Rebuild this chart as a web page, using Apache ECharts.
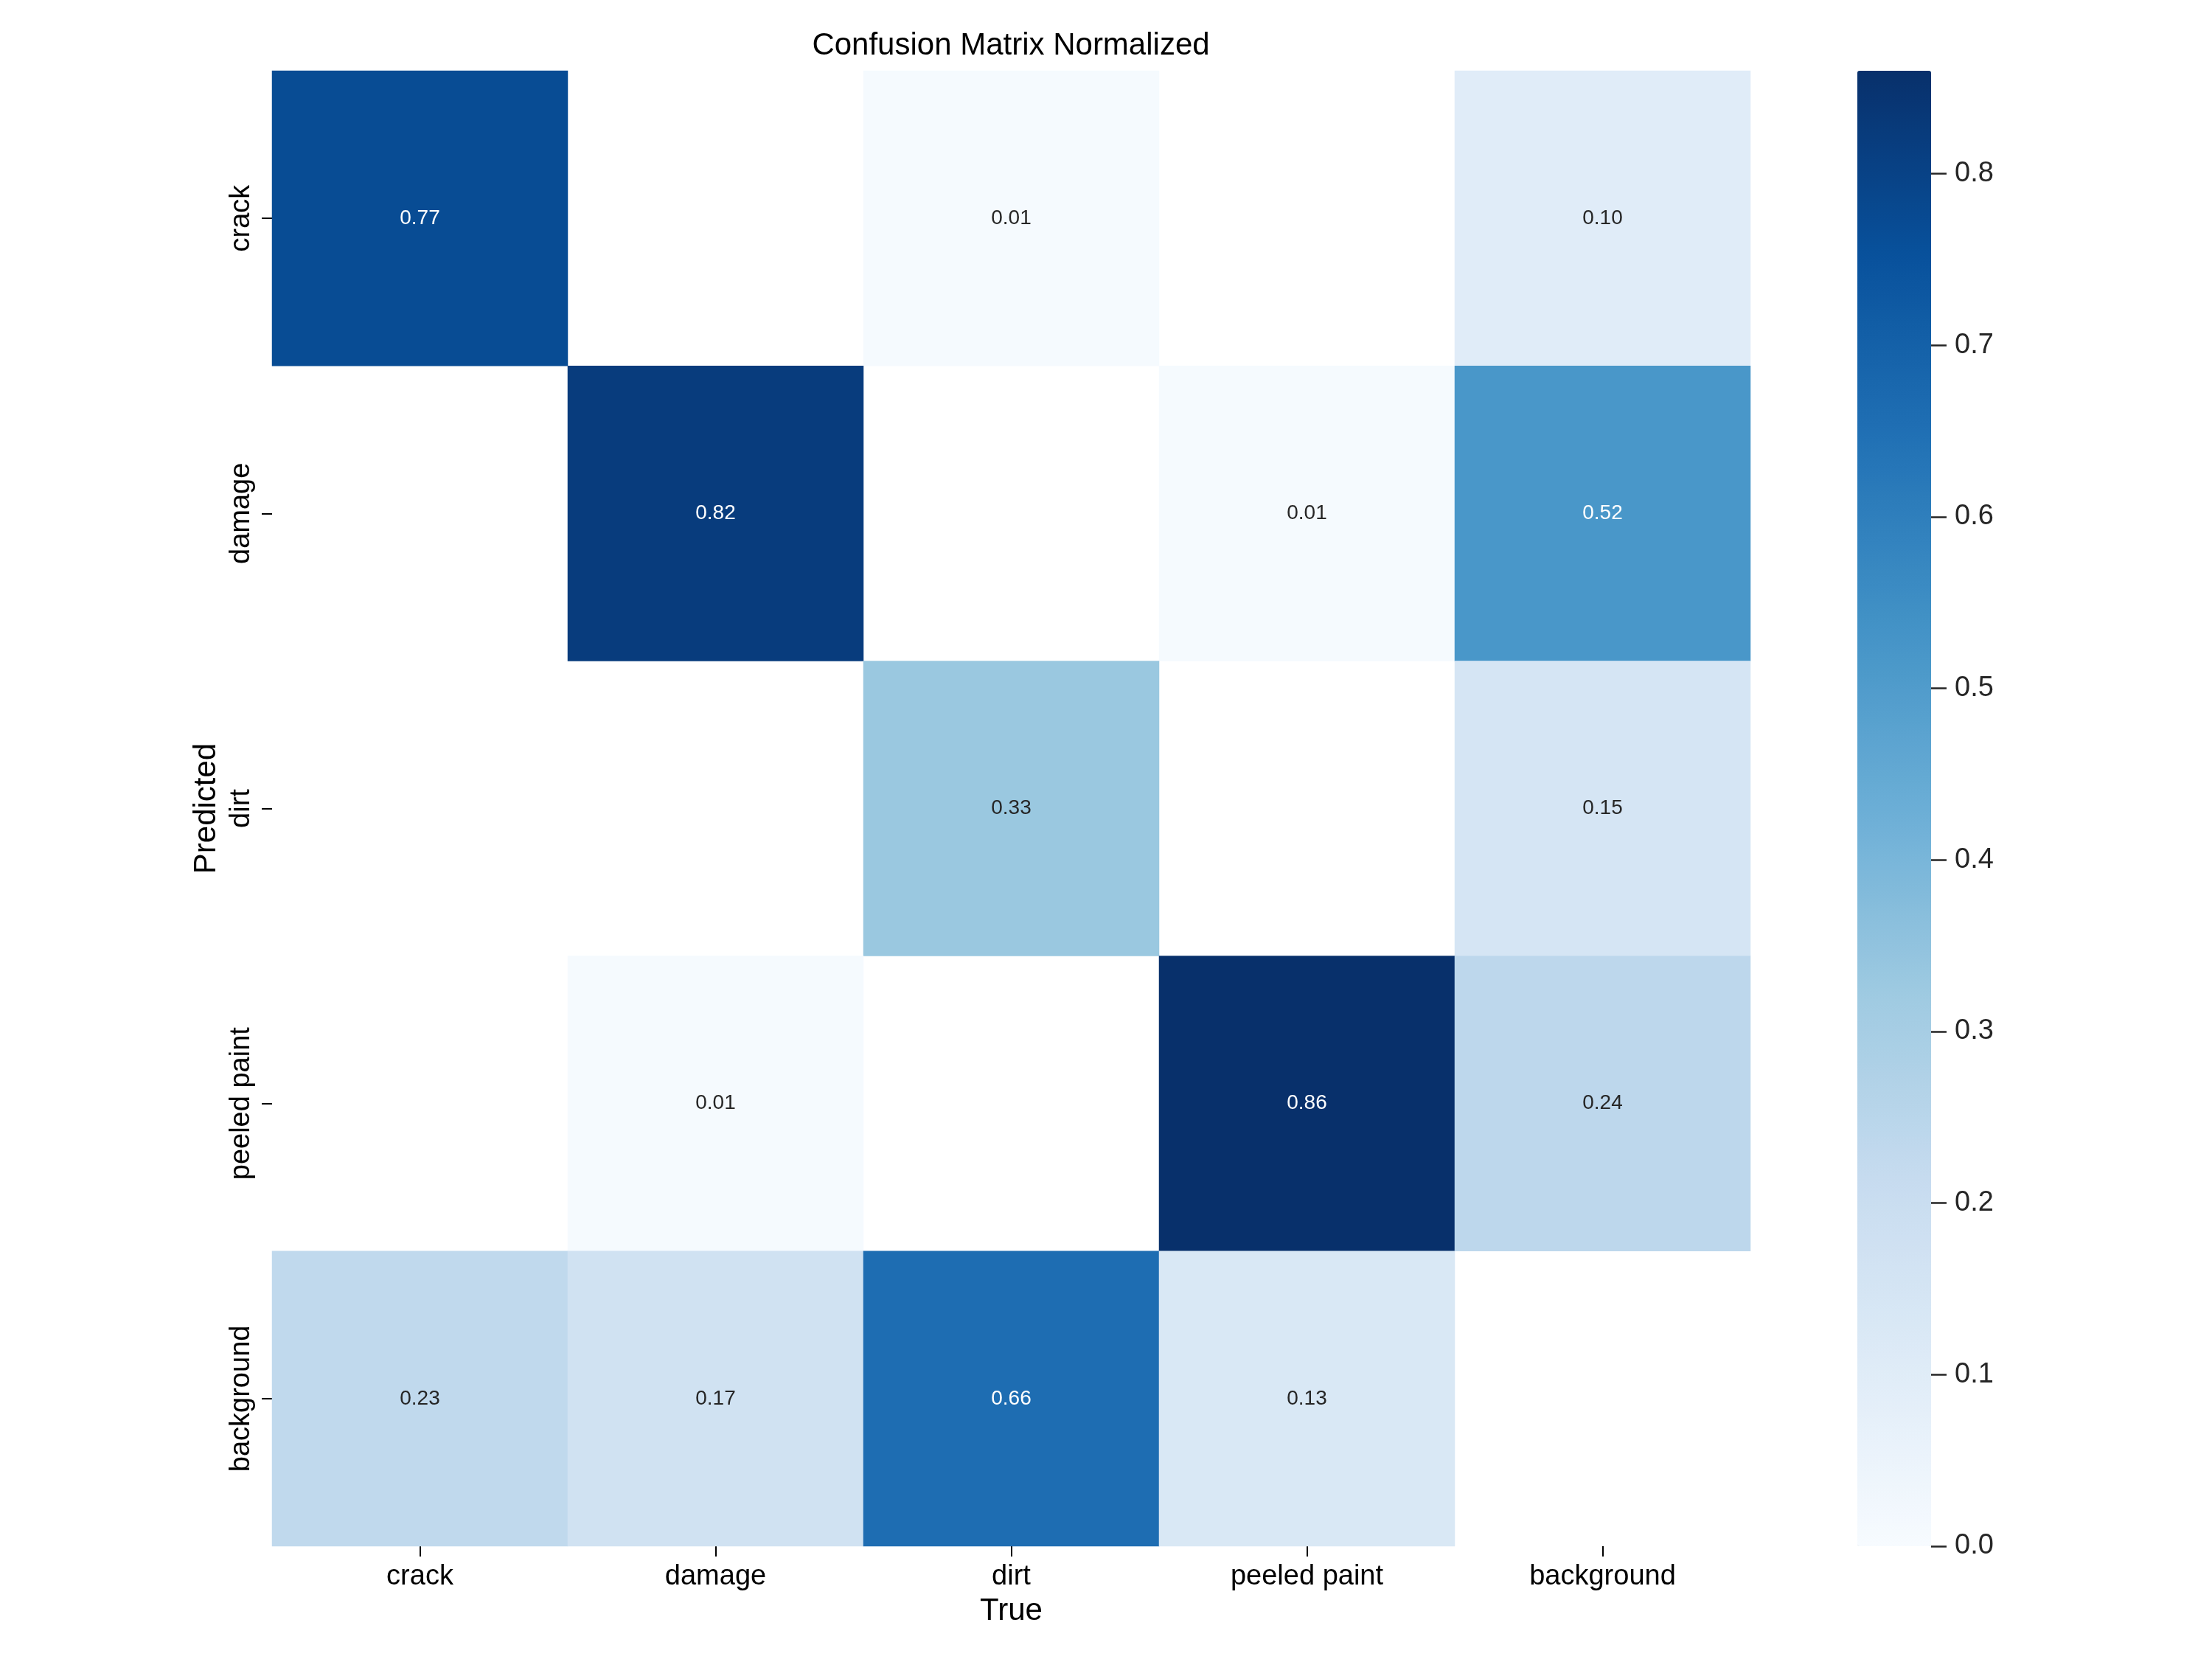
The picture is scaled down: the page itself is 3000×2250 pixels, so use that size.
<!DOCTYPE html>
<html>
<head>
<meta charset="utf-8">
<script src="https://cdn.jsdelivr.net/npm/echarts@6/dist/echarts.min.js"></script>
<style>
html, body { margin: 0; padding: 0; background: #ffffff; }
#chart { width: 3000px; height: 2250px; }
</style>
</head>
<body>
<div id="chart"></div>
<script>
// ---- data ----
const trueCategories = ['crack', 'damage', 'dirt', 'peeled paint', 'background'];
const predictedCategories = ['crack', 'damage', 'dirt', 'peeled paint', 'background'];
// rows = Predicted, columns = True (0 means empty / not drawn)
const rowCrack = [0.77, 0, 0.01, 0, 0.10];
const rowDamage = [0, 0.82, 0, 0.01, 0.52];
const rowDirt = [0, 0, 0.33, 0, 0.15];
const rowPeeledPaint = [0, 0.01, 0, 0.86, 0.24];
const rowBackground = [0.23, 0.17, 0.66, 0.13, 0];
const colorbarTicks = [0, 0.1, 0.2, 0.3, 0.4, 0.5, 0.6, 0.7, 0.8];
const colorMin = 0;
const colorMax = 0.86;

// ---- build ----
const rows = [rowCrack, rowDamage, rowDirt, rowPeeledPaint, rowBackground];
const cells = [];
rows.forEach(function (row, i) {
  row.forEach(function (v, j) {
    if (v > 0) cells.push([j, i, v]);
  });
});

const FONT = '"Liberation Sans", Arial, Helvetica, sans-serif';
const BLUES = ['#f7fbff', '#deebf7', '#c6dbef', '#9ecae1', '#6baed6', '#4292c6', '#2171b5', '#08519c', '#08306b'];

// colorbar geometry
const CB_LEFT = 2519, CB_TOP = 96, CB_W = 100, CB_H = 2001;
const tickMax = colorbarTicks[colorbarTicks.length - 1];
const tickStep = colorbarTicks[1] - colorbarTicks[0];
const axisH = CB_H * (tickMax - colorMin) / (colorMax - colorMin);
const axisTop = CB_TOP + CB_H - axisH;

const chart = echarts.init(document.getElementById('chart'), null, { renderer: 'canvas' });
chart.setOption({
  backgroundColor: '#ffffff',
  animation: false,
  title: {
    text: 'Confusion Matrix Normalized',
    left: 1371,
    top: 41,
    textAlign: 'center',
    padding: 0,
    textStyle: { fontFamily: FONT, fontSize: 42, fontWeight: 'normal', color: '#000000' }
  },
  grid: [
    { left: 369, top: 96, width: 2005, height: 2001, containLabel: false },
    { left: CB_LEFT, top: axisTop, width: CB_W, height: axisH, containLabel: false }
  ],
  xAxis: [
    {
      gridIndex: 0,
      type: 'category',
      data: trueCategories,
      name: 'True',
      nameLocation: 'middle',
      nameGap: 67,
      nameTextStyle: { fontFamily: FONT, fontSize: 42, color: '#000000' },
      axisLine: { show: false },
      axisTick: { show: true, alignWithLabel: true, length: 14, lineStyle: { color: '#000000', width: 2 } },
      axisLabel: { margin: 23, fontFamily: FONT, fontSize: 38, color: '#000000' },
      splitLine: { show: false }
    },
    { gridIndex: 1, type: 'category', data: [''], show: false }
  ],
  yAxis: [
    {
      gridIndex: 0,
      type: 'category',
      data: predictedCategories,
      inverse: true,
      name: 'Predicted',
      nameLocation: 'middle',
      nameGap: 68,
      nameTextStyle: { fontFamily: FONT, fontSize: 42, color: '#000000' },
      axisLine: { show: false },
      axisTick: { show: true, alignWithLabel: true, length: 14, lineStyle: { color: '#000000', width: 2 } },
      axisLabel: { rotate: 90, margin: 22, fontFamily: FONT, fontSize: 38, color: '#000000' },
      splitLine: { show: false }
    },
    {
      gridIndex: 1,
      type: 'value',
      position: 'right',
      min: colorbarTicks[0],
      max: tickMax,
      interval: tickStep,
      axisLine: { show: false, onZero: false },
      axisTick: { show: true, inside: false, length: 21, lineStyle: { color: '#262626', width: 2.5 } },
      axisLabel: {
        margin: 32, fontFamily: FONT, fontSize: 38, color: '#262626',
        formatter: function (v) { return v.toFixed(1); }
      },
      splitLine: { show: false }
    }
  ],
  visualMap: {
    type: 'continuous',
    seriesIndex: 0,
    min: colorMin,
    max: colorMax,
    calculable: false,
    hoverLink: false,
    orient: 'vertical',
    left: CB_LEFT,
    top: CB_TOP,
    padding: 0,
    itemWidth: CB_W,
    itemHeight: CB_H,
    text: null,
    showLabel: false,
    indicatorSize: 0,
    inRange: { color: BLUES }
  },
  series: [
    {
      type: 'heatmap',
      xAxisIndex: 0,
      yAxisIndex: 0,
      data: cells,
      itemStyle: { borderWidth: 0 },
      emphasis: { disabled: true },
      label: {
        show: true,
        formatter: function (p) {
          const v = p.value[2];
          return (v >= 0.45 ? '{w|' : '{d|') + v.toFixed(2) + '}';
        },
        rich: {
          w: { color: '#ffffff', fontFamily: FONT, fontSize: 28 },
          d: { color: '#262626', fontFamily: FONT, fontSize: 28 }
        }
      }
    }
  ]
});
</script>
</body>
</html>
